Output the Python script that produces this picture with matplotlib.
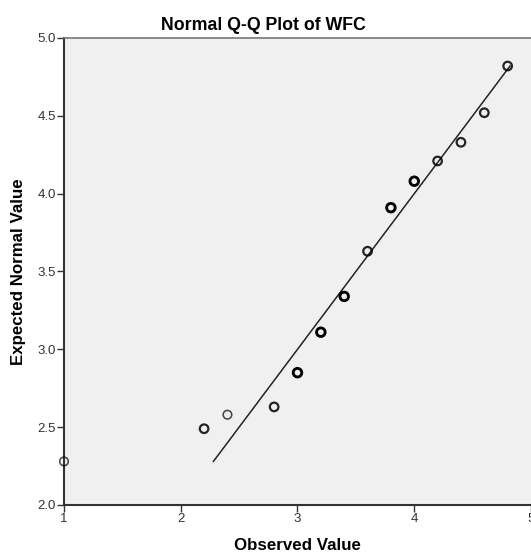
import numpy as np
import matplotlib.pyplot as plt

plt.rcParams['font.family'] = ['Liberation Sans', 'DejaVu Sans']

observado = [1.0, 2.2, 2.4, 2.8, 3.0, 3.2, 3.4, 3.6, 3.8, 4.0, 4.2, 4.4, 4.6, 4.8]
esperado = [2.28, 2.49, 2.58, 2.63, 2.85, 3.11, 3.34, 3.63, 3.91, 4.08, 4.21, 4.33, 4.52, 4.82]
frecuencia = [1, 2, 1, 2, 3, 3, 3, 2, 3, 3, 2, 2, 2, 2]

# Recta de referencia y = x
linea = [2.28, 4.82]

fig = plt.figure(figsize=(5.31, 5.58), dpi=100)
ax = fig.add_axes([0.1205, 0.095, 0.8795, 0.8369])
ax.set_facecolor('#F0F0F0')

ax.plot(linea, linea, color='#222222', lw=1.1, zorder=2)

# Los puntos repetidos se ven más gruesos
for xo, ye, f in zip(observado, esperado, frecuencia):
    ax.scatter([xo], [ye], s=38, facecolors='none', edgecolors='black',
               linewidths=0.7 + 0.45 * f, alpha=0.55 + 0.15 * f, zorder=3, clip_on=False)

ax.set_xlim(1, 5)
ax.set_ylim(2, 5)
ax.set_xticks([1, 2, 3, 4, 5])
ax.set_yticks([2.0, 2.5, 3.0, 3.5, 4.0, 4.5, 5.0])
ax.set_yticklabels(['2.0', '2.5', '3.0', '3.5', '4.0', '4.5', '5.0'])
ax.tick_params(direction='out', length=5, width=1, labelsize=9.5, colors='#333333', pad=1)

for s in ['left', 'bottom']:
    ax.spines[s].set_color('#333333')
    ax.spines[s].set_linewidth(1.5)
ax.spines['top'].set_color('#777777')
ax.spines['top'].set_linewidth(1.2)
ax.spines['right'].set_visible(False)

ax.set_title('Normal Q-Q Plot of WFC', fontsize=12.8, fontweight='bold', pad=6,
             x=(263 - 64) / (531 - 64))
ax.set_xlabel('Observed Value', fontsize=12.2, fontweight='bold', labelpad=9)
ax.set_ylabel('Expected Normal Value', fontsize=12.2, fontweight='bold', labelpad=8)

fig.savefig('out.png', dpi=100)
